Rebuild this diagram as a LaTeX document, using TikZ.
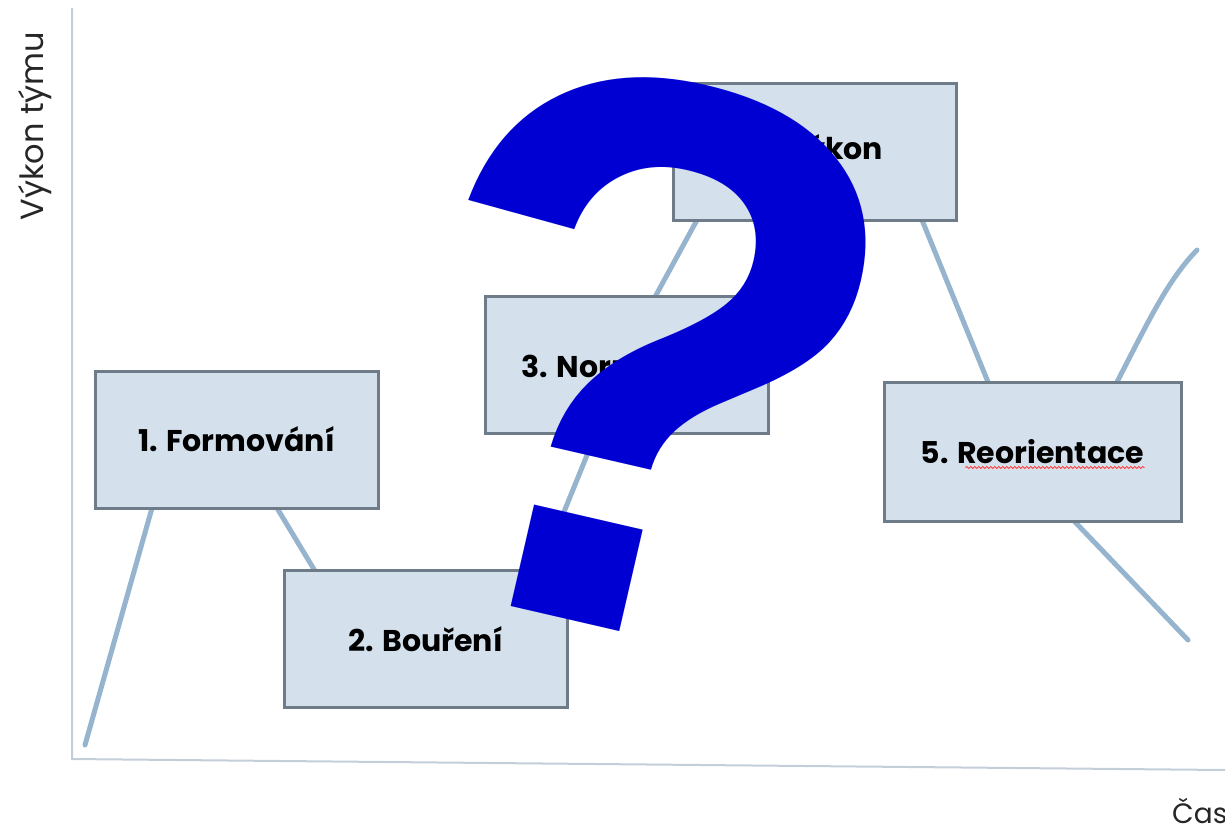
\documentclass[tikz,border=0pt]{standalone}
\usepackage{fontspec}
\setmainfont{Poppins}
\newfontfamily\qfont{Liberation Sans}
\usetikzlibrary{decorations.pathmorphing,calc}
\definecolor{linec}{RGB}{150,180,206}
\definecolor{axisc}{RGB}{196,206,217}
\definecolor{boxfill}{RGB}{212,225,237}
\definecolor{boxdraw}{RGB}{110,124,138}
\definecolor{qblue}{RGB}{0,0,210}
\tikzset{
  stage/.style={draw=boxdraw, line width=3pt, fill=boxfill, minimum width=283pt, minimum height=137pt, inner sep=0pt, font=\fontsize{30}{34}\selectfont\bfseries},
  curve/.style={draw=linec, line width=5pt, line cap=round},
  axis/.style={draw=axisc, line width=2pt},
  axlabel/.style={font=\fontsize{32}{36}\selectfont, text=black!85, inner sep=0pt},
  spell/.style={draw=red!75, line width=0.9pt, decorate, decoration={snake, amplitude=1pt, segment length=4pt}}
}
\begin{document}
\begin{tikzpicture}[x=1pt,y=-1pt]
\useasboundingbox (0,0) rectangle (1225,831);
% axes
\coordinate (o) at (72,759);
\coordinate (ytop) at (72,8);
\coordinate (xend) at (1225,770);
\draw[axis] (ytop) -- (o) -- (xend);
\node[axlabel, rotate=90, anchor=base] (ylab) at (43,126) {Výkon týmu};
\node[axlabel, anchor=base west, font=\fontsize{28}{32}\selectfont] (xlab) at (1172,823) {Čas};
% curve segments (behind boxes)
\coordinate (c0) at (85,745);
\coordinate (c1) at (152,508);
\coordinate (c2) at (277,508);
\coordinate (c3) at (315,571);
\coordinate (c4) at (540,571);
\coordinate (c5) at (596,433);
\coordinate (c6) at (655,297);
\coordinate (c7) at (697,220);
\coordinate (c8) at (922,220);
\coordinate (c9) at (988,382);
\coordinate (c10) at (1117,382);
\coordinate (c11) at (1197,250);
\coordinate (c12) at (1075,522);
\coordinate (c13) at (1188,640);
\draw[curve] (c0) -- (c1);
\draw[curve] (c2) -- (c3);
\draw[curve] (c4) -- (c5);
\draw[curve] (c6) -- (c7);
\draw[curve] (c8) -- (c9);
\draw[curve] (c10) .. controls (1150,318) and (1168,280) .. (c11);
\draw[curve] (c12) -- (c13);
% boxes
\node[stage] (f) at (236.5,439.5) {1. Formování};
\node[stage] (b) at (425.5,639) {2. Bouření};
\node[stage] (n) at (626.5,365) {3. Normování};
\node[stage] (v) at (815,151.5) {4. Výkon};
\node[stage, minimum width=297pt, minimum height=139pt] (r) at (1032.5,451.5) {5. Reorientace};
\draw[spell] ($(r.center)+(-67,16)$) -- ($(r.center)+(112,16)$);
% question mark
\node[inner sep=0pt, text=qblue, rotate=-13, font=\qfont\bfseries\fontsize{790}{790}\selectfont] (q) at (644,354) {?};
\end{tikzpicture}
\end{document}
